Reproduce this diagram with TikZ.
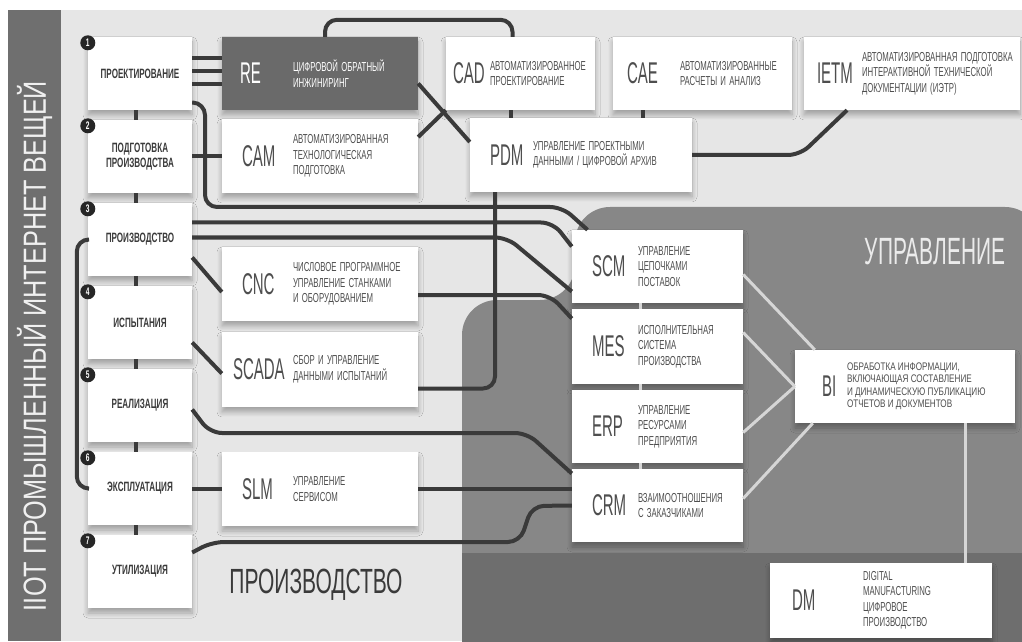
\documentclass[tikz,border=0pt]{standalone}
\usepackage{fontspec}
\setmainfont{Liberation Sans}
\newfontfamily\acrfont[FakeStretch=0.5]{Liberation Sans}
\newfontfamily\descfont[FakeStretch=0.6, WordSpace=1.5]{Liberation Sans}
\newfontfamily\bifont[FakeStretch=0.74]{Liberation Sans}
\newfontfamily\bigfont[FakeStretch=0.55]{Liberation Sans}
\newfontfamily\titlefont[FakeStretch=0.79]{Liberation Sans}
\usetikzlibrary{positioning,shadows.blur}

\definecolor{bgl}{HTML}{E6E6E6}
\definecolor{bar}{HTML}{6F6F6F}
\definecolor{mid}{HTML}{878787}
\definecolor{deep}{HTML}{6E6E6E}
\definecolor{ink}{HTML}{3A3A3A}
\definecolor{acrc}{HTML}{4E4E4E}
\definecolor{lite}{HTML}{D6D6D6}
\definecolor{rebox}{HTML}{6A6A6A}

\tikzset{
  box/.style={fill=white, minimum height=73pt, inner sep=0pt,
    blur shadow={shadow xshift=0pt, shadow yshift=-5pt, shadow blur radius=5pt,
      shadow blur steps=8, shadow opacity=30}},
  stage/.style={box, minimum width=104pt, align=center, text=ink,
    font=\descfont\bfseries\fontsize{13.5}{15}\selectfont},
  acr/.style={inner sep=0pt, text=acrc, font=\acrfont\fontsize{30}{30}\selectfont},
  desc/.style={inner sep=0pt, align=left, text=acrc,
    font=\descfont\fontsize{13}{15.5}\selectfont},
  num/.style={circle, fill=black!85, text=white, inner sep=0pt, minimum size=15pt,
    font=\descfont\bfseries\fontsize{11}{11}\selectfont},
  conn/.style={line width=4pt, draw=ink, rounded corners=12pt},
  tick/.style={line width=4pt, draw=ink},
  light/.style={line width=3pt, draw=lite},
}

\begin{document}
\begin{tikzpicture}[x=1pt,y=1pt]
  \useasboundingbox (0,0) rectangle (1022,641);
  % backgrounds
  \fill[white] (0,0) rectangle (1022,641);
  \fill[bar] (8,0) rectangle (61,631);
  \fill[bgl] (61,0) rectangle (1022,631);
  \fill[mid, rounded corners=35pt] (1040,-30) -- (1040,434) -- (575,434) -- (575,341)
    -- (462,341) -- (462,-30) -- cycle;
  \fill[deep] (462,-30) rectangle (1040,88);

  \node[font=\titlefont\fontsize{32}{32}\selectfont, text=white!94!black, rotate=90]
    (title) at (34.5,295) {IIOT ПРОМЫШЛЕННЫЙ ИНТЕРНЕТ ВЕЩЕЙ};
  \node[font=\bigfont\fontsize{38}{38}\selectfont, text=white!92!black]
    (upr) at (935,389) {УПРАВЛЕНИЕ};
  \node[font=\descfont\fontsize{35}{35}\selectfont, text=ink]
    (proizv) at (316,56) {ПРОИЗВОДСТВО};

  % life cycle stages
  \foreach \i/\txt in {1/ПРОЕКТИРОВАНИЕ, 2/{ПОДГОТОВКА\\ПРОИЗВОДСТВА}, 3/ПРОИЗВОДСТВО,
      4/ИСПЫТАНИЯ, 5/РЕАЛИЗАЦИЯ, 6/ЭКСПЛУАТАЦИЯ, 7/УТИЛИЗАЦИЯ} {
    \node[stage] (s\i) at (140,{650.5-83*\i}) {\txt};
  }

  % systems
  \node[box, minimum width=196pt, fill=rebox] (re) at (320,567.5) {};
  \node[box, minimum width=196pt, minimum height=74pt] (cam) at (320,485) {};
  \node[box, minimum width=196pt, minimum height=74pt] (cnc) at (320,357) {};
  \node[box, minimum width=196pt, minimum height=75pt] (scada) at (320,271.5) {};
  \node[box, minimum width=196pt, minimum height=74pt] (slm) at (320,152) {};
  \node[box, minimum width=149pt] (cad) at (520.5,567.5) {};
  \node[box, minimum width=179pt] (cae) at (702.5,567.5) {};
  \node[box, minimum width=216pt] (ietm) at (912,567.5) {};
  \node[box, minimum width=222pt, minimum height=74pt] (pdm) at (581,486) {};
  \node[box, minimum width=171pt] (scm) at (657.5,374.5) {};
  \node[box, minimum width=171pt, minimum height=75pt] (mes) at (657.5,294.5) {};
  \node[box, minimum width=171pt] (erp) at (657.5,214.5) {};
  \node[box, minimum width=171pt] (crm) at (657.5,135.5) {};
  \node[box, minimum width=220pt] (bi) at (905,254.5) {};
  \node[box, minimum width=222pt, minimum height=75pt] (dm) at (881,40.5) {};

  \node[acr, text=white, right=18pt of re.west] (re-a) {RE};
  \node[desc, text=white, right=71pt of re.west] (re-d) {ЦИФРОВОЙ ОБРАТНЫЙ\\ИНЖИНИРИНГ};
  \node[acr, right=20pt of cam.west] (cam-a) {CAM};
  \node[desc, right=71pt of cam.west] (cam-d) {АВТОМАТИЗИРОВАННАЯ\\ТЕХНОЛОГИЧЕСКАЯ\\ПОДГОТОВКА};
  \node[acr, right=20pt of cnc.west] (cnc-a) {CNC};
  \node[desc, right=71pt of cnc.west] (cnc-d) {ЧИСЛОВОЕ ПРОГРАММНОЕ\\УПРАВЛЕНИЕ СТАНКАМИ\\И ОБОРУДОВАНИЕМ};
  \node[acr, right=11pt of scada.west] (scada-a) {SCADA};
  \node[desc, right=71pt of scada.west] (scada-d) {СБОР И УПРАВЛЕНИЕ\\ДАННЫМИ ИСПЫТАНИЙ};
  \node[acr, right=20pt of slm.west] (slm-a) {SLM};
  \node[desc, right=71pt of slm.west] (slm-d) {УПРАВЛЕНИЕ\\СЕРВИСОМ};
  \node[acr, right=7pt of cad.west] (cad-a) {CAD};
  \node[desc, right=44pt of cad.west] (cad-d) {АВТОМАТИЗИРОВАННОЕ\\ПРОЕКТИРОВАНИЕ};
  \node[acr, right=14pt of cae.west] (cae-a) {CAE};
  \node[desc, right=67pt of cae.west] (cae-d) {АВТОМАТИЗИРОВАННЫЕ\\РАСЧЕТЫ И АНАЛИЗ};
  \node[acr, right=13pt of ietm.west] (ietm-a) {IETM};
  \node[desc, right=58pt of ietm.west] (ietm-d) {АВТОМАТИЗИРОВАННАЯ ПОДГОТОВКА\\ИНТЕРАКТИВНОЙ ТЕХНИЧЕСКОЙ\\ДОКУМЕНТАЦИИ (ИЭТР)};
  \node[acr, right=20pt of pdm.west] (pdm-a) {PDM};
  \node[desc, right=63pt of pdm.west] (pdm-d) {УПРАВЛЕНИЕ ПРОЕКТНЫМИ\\ДАННЫМИ / ЦИФРОВОЙ АРХИВ};
  \node[acr, right=20pt of scm.west] (scm-a) {SCM};
  \node[desc, right=66pt of scm.west] (scm-d) {УПРАВЛЕНИЕ\\ЦЕПОЧКАМИ\\ПОСТАВОК};
  \node[acr, right=20pt of mes.west] (mes-a) {MES};
  \node[desc, right=66pt of mes.west] (mes-d) {ИСПОЛНИТЕЛЬНАЯ\\СИСТЕМА\\ПРОИЗВОДСТВА};
  \node[acr, right=20pt of erp.west] (erp-a) {ERP};
  \node[desc, right=66pt of erp.west] (erp-d) {УПРАВЛЕНИЕ\\РЕСУРСАМИ\\ПРЕДПРИЯТИЯ};
  \node[acr, right=20pt of crm.west] (crm-a) {CRM};
  \node[desc, right=66pt of crm.west] (crm-d) {ВЗАИМООТНОШЕНИЯ\\С ЗАКАЗЧИКАМИ};
  \node[acr, right=27pt of bi.west] (bi-a) {BI};
  \node[desc, right=52pt of bi.west, font=\bifont\fontsize{11}{12.5}\selectfont] (bi-d)
    {ОБРАБОТКА ИНФОРМАЦИИ,\\ВКЛЮЧАЮЩАЯ СОСТАВЛЕНИЕ\\И ДИНАМИЧЕСКУЮ ПУБЛИКАЦИЮ\\ОТЧЕТОВ И ДОКУМЕНТОВ};
  \node[acr, right=22pt of dm.west] (dm-a) {DM};
  \node[desc, right=93pt of dm.west] (dm-d) {DIGITAL\\MANUFACTURING\\ЦИФРОВОЕ\\ПРОИЗВОДСТВО};

  % stage numbers and links between stages
  \foreach \i in {1,...,7}
    \node[num] (n\i) at ([yshift=-6pt]s\i.north west) {\i};
  \foreach \i/\j in {1/2,2/3,3/4,4/5,5/6,6/7}
    \draw[tick] ([xshift=-4pt]s\i.south) -- ([xshift=-4pt]s\j.north);
  \draw[conn] (s3.west) -- ++(-11,0) |- (s6.west);

  % design links
  \foreach \dy in {15,2,-11}
    \draw[tick] ([yshift=\dy pt]s1.east) -- ([yshift=\dy pt]s1.east -| re.west);
  \draw[conn] ([yshift=-29pt]s1.east) -- (205,538) -- (205,434) -- (562,434)
    -- ([xshift=-70pt]scm.north);
  \draw[tick] (s2.east) -- (s2.east -| cam.west);
  \draw[tick] ([yshift=19pt]cam.east) -- (cad.south west);
  \draw[tick] ([yshift=-10pt]re.east) -- ([yshift=13pt]pdm.west);
  \draw[conn] ([xshift=5pt]re.north) -- ++(0,17) -| ([xshift=-8pt]cad.north);
  \draw[tick] ([xshift=-10pt]cad.south) -- ([xshift=-10pt]cad.south |- pdm.north);
  \draw[tick] ([xshift=-60pt]cae.south) -- ([xshift=-60pt]cae.south |- pdm.north);
  \draw[conn] (pdm.east) -- (800,486) -- ([xshift=-65pt]ietm.south);

  % production links
  \draw[conn] ([yshift=17pt]s3.east) -- (553,418.5) -- ([yshift=20pt]scm.west);
  \draw[conn] ([yshift=2pt]s3.east) -- (507,403.5) -- ([yshift=-25pt]scm.west);
  \draw[tick] ([yshift=-18pt]s3.east) -- ([yshift=-8pt]cnc.west);
  \draw[conn] ([yshift=-11pt]cnc.east) -- (550,346) -- ([yshift=28pt]mes.west);
  \draw[tick] ([yshift=-20pt]s4.east) -- ([yshift=-4pt]scada.west);
  \draw[conn] ([yshift=-19pt]scada.east) -| ([xshift=-86pt]pdm.south);
  \draw[conn] ([yshift=-4pt]s5.east) -- (210,208) -- (527,208) -- ([yshift=32pt]crm.west);
  \draw[tick] (s6.east) -- (s6.east -| slm.west);
  \draw[tick] (slm.east) -- (slm.east -| crm.west);
  \draw[conn] ([yshift=19pt]s7.east) -- (212,99) -- (520,99) -- (532,135) -- (crm.west);

  % management links
  \foreach \a/\b in {scm/mes, mes/erp, erp/crm}
    \draw[light] ([xshift=-17pt]\a.south) -- ([xshift=-17pt]\b.north);
  \draw[light] ([yshift=-8pt]scm.east) -- ([xshift=20pt]bi.north west);
  \draw[light] ([yshift=14pt]mes.east) -- (bi.west);
  \draw[light] ([yshift=-6pt]erp.east) -- (bi.west);
  \draw[light] ([yshift=7pt]crm.east) -- ([xshift=18pt]bi.south west);
  \draw[light] ([xshift=60pt]bi.south) -- ([xshift=60pt]bi.south |- dm.north);
\end{tikzpicture}
\end{document}
